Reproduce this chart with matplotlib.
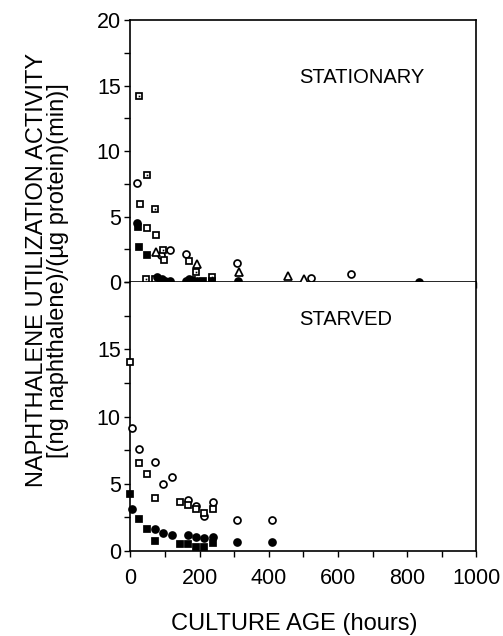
import numpy as np
import matplotlib.pyplot as plt
from matplotlib.ticker import MultipleLocator

plt.rcParams['font.family'] = ['Liberation Sans', 'DejaVu Sans']

# ---- stationary phase cultures (top panel) ----
st_open_circle_x = [20, 87, 114, 160, 307, 521, 637]
st_open_circle_y = [7.55, 2.07, 2.45, 2.14, 1.48, 0.3, 0.61]
st_filled_circle_x = [18, 76, 90, 100, 114, 160, 170, 191, 310, 834]
st_filled_circle_y = [4.54, 0.4, 0.2, 0.1, 0.05, 0.05, 0.25, 0.05, 0.05, 0.0]
st_open_square_x = [27, 47, 74, 97, 169]
st_open_square_y = [5.97, 4.16, 3.6, 1.68, 1.6]
st_filled_square_x = [23, 25, 47, 177, 210, 236]
st_filled_square_y = [4.23, 2.7, 2.07, 0.15, 0.05, 0.05]
st_dot_square_x = [25, 49, 70, 93, 189, 46, 71, 236]
st_dot_square_y = [14.2, 8.2, 5.59, 2.45, 0.79, 0.25, 0.25, 0.36]
st_triangle_x = [74, 193, 314, 456, 501]
st_triangle_y = [2.32, 1.4, 0.79, 0.45, 0.2]

# ---- starved cultures (bottom panel) ----
sv_open_circle_x = [3, 25, 71, 95, 119, 167, 189, 212, 238, 309, 408]
sv_open_circle_y = [9.18, 7.56, 6.63, 4.99, 5.49, 3.77, 3.37, 2.62, 3.64, 2.32, 2.32]
sv_filled_circle_x = [3, 71, 95, 119, 167, 189, 212, 238, 309, 408]
sv_filled_circle_y = [3.14, 1.62, 1.32, 1.2, 1.2, 1.07, 1.0, 1.02, 0.7, 0.7]
sv_open_square_x = [0, 25, 47, 71, 143, 167, 189, 212, 238]
sv_open_square_y = [14.04, 6.56, 5.69, 3.94, 3.64, 3.44, 3.14, 2.82, 3.14]
sv_filled_square_x = [0, 25, 47, 71, 143, 167, 189, 212, 238]
sv_filled_square_y = [4.26, 2.37, 1.62, 0.77, 0.5, 0.5, 0.32, 0.32, 0.57]

ms = 5.0
mew = 1.25

fig = plt.figure(figsize=(5.03, 6.36), dpi=100)
ax1 = fig.add_axes([0.2594, 0.5566, 0.6879, 0.4119])
ax2 = fig.add_axes([0.2594, 0.1336, 0.6879, 0.4230], sharex=ax1)

def openm(ax, x, y, m, size=ms):
    ax.plot(x, y, m, ls='none', ms=size, mfc='white', mec='black', mew=mew, clip_on=False, zorder=3)

def filledm(ax, x, y, m, size=ms):
    ax.plot(x, y, m, ls='none', ms=size, mfc='black', mec='black', mew=mew, clip_on=False, zorder=4)

openm(ax1, st_open_circle_x, st_open_circle_y, 'o')
openm(ax1, st_open_square_x, st_open_square_y, 's')
openm(ax1, st_dot_square_x, st_dot_square_y, 's')
# centre dot of the dotted squares
ax1.plot(st_dot_square_x, st_dot_square_y, 's', ls='none', ms=1.2, mew=0, color='black', zorder=5, clip_on=False)
openm(ax1, st_triangle_x, st_triangle_y, '^', size=5.2)
filledm(ax1, st_filled_circle_x, st_filled_circle_y, 'o')
filledm(ax1, st_filled_square_x, st_filled_square_y, 's')

openm(ax2, sv_open_circle_x, sv_open_circle_y, 'o')
openm(ax2, sv_open_square_x, sv_open_square_y, 's')
filledm(ax2, sv_filled_circle_x, sv_filled_circle_y, 'o')
filledm(ax2, sv_filled_square_x, sv_filled_square_y, 's')

for ax in (ax1, ax2):
    ax.set_xlim(0, 1000)
    ax.set_ylim(0, 20)
    ax.xaxis.set_major_locator(MultipleLocator(200))
    ax.xaxis.set_minor_locator(MultipleLocator(100))
    ax.yaxis.set_major_locator(MultipleLocator(5))
    ax.yaxis.set_minor_locator(MultipleLocator(2.5))
    ax.tick_params(which='both', direction='out', top=False, right=False,
                   length=4, width=1.0, labelsize=15.5)
    ax.tick_params(axis='y', pad=3)
    ax.tick_params(axis='x', pad=8)
    for sp in ax.spines.values():
        sp.set_linewidth(1.2)

ax1.tick_params(axis='x', labelbottom=False)
ax2.set_yticks([0, 5, 10, 15])
ax2.spines['top'].set_visible(False)

ax1.text(0.486, 0.78, 'STATIONARY', transform=ax1.transAxes, fontsize=14.5, va='center', ha='left')
ax2.text(0.486, 0.86, 'STARVED', transform=ax2.transAxes, fontsize=14.5, va='center', ha='left')

fig.text(0.094, 0.575, 'NAPHTHALENE UTILIZATION ACTIVITY\n[(ng naphthalene)/(\u00b5g protein)(min)]',
         rotation=90, ha='center', va='center', fontsize=17, linespacing=0.95)
fig.text(294 / 503, 1 - 630 / 636, 'CULTURE AGE (hours)', ha='center', va='baseline', fontsize=17)

plt.savefig('out.png', dpi=100)
